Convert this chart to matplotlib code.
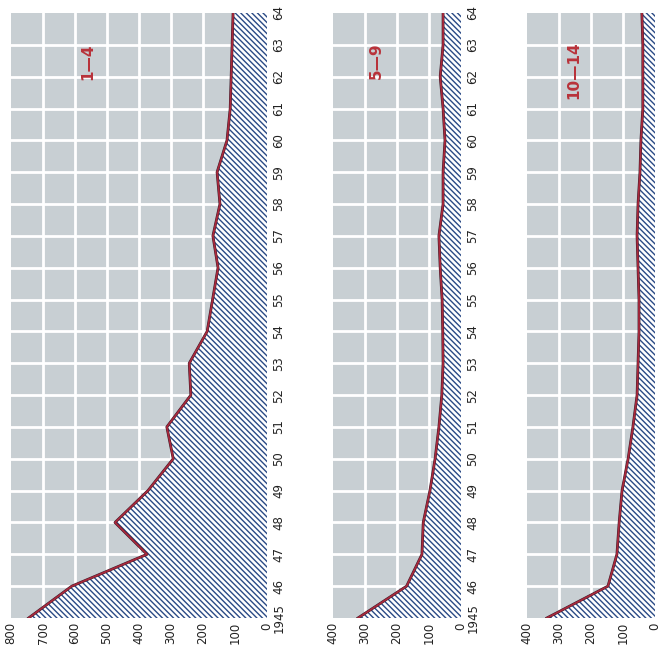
import matplotlib
matplotlib.use("Agg")
import matplotlib.pyplot as plt
import numpy as np

years = list(range(1945, 1965))
year_labels = ["1945"] + [f"{y % 100:02d}" for y in years[1:]]

age_1_4 = [745, 610, 375, 475, 372, 293, 313, 238, 243, 187, 170, 153, 169, 147, 156, 125, 115, 112, 109, 106]
age_5_9 = [322, 170, 122, 118, 97, 81, 69, 60, 56, 57, 59, 65, 69, 56, 56, 50, 56, 65, 56, 56]
age_10_14 = [338, 147, 119, 112, 103, 84, 69, 56, 53, 50, 50, 53, 56, 53, 47, 44, 38, 38, 38, 41]

panel_titles = ["1—4", "5—9", "10—14"]
value_ticks_1 = [800, 700, 600, 500, 400, 300, 200, 100, 0]
value_ticks_2 = [400, 300, 200, 100, 0]

plt.rcParams['hatch.linewidth'] = 1.0
plt.rcParams['hatch.color'] = '#2a4a86'

W, H = 664, 660
fig = plt.figure(figsize=(W / 100, H / 100), dpi=100)
fig.patch.set_facecolor('white')

BG = '#c8cfd3'
LINE = '#a8283c'

def px_axes(left, right, top, bottom):
    return fig.add_axes([left / W, (H - bottom) / H, (right - left) / W, (bottom - top) / H])

specs = [
    (11, 267, age_1_4, 800, value_ticks_1, True, (88, 62)),
    (333, 461, age_5_9, 400, value_ticks_2, True, (376, 61)),
    (527, 655, age_10_14, 400, value_ticks_2, False, (574, 70)),
]

for i, (l, r, vals, vmax, vt, show_years, (tx, ty)) in enumerate(specs):
    ax = px_axes(l, r, 13, 618)
    ax.set_facecolor(BG)
    ax.set_xlim(vmax, 0)
    ax.set_ylim(1945, 1964)
    for v in range(100, vmax, 100):
        ax.axvline(v, color='white', lw=2.0, zorder=1)
    for y in years[1:-1]:
        ax.axhline(y, color='white', lw=2.0, zorder=1)
    ax.fill_betweenx(years, 0, vals, facecolor='white', edgecolor='#2a4a86',
                     hatch='\\\\\\\\\\\\', linewidth=0, zorder=2)
    ax.plot(vals, years, color='#3a1d2a', lw=2.0, zorder=3)
    ax.plot(vals, years, color=LINE, lw=1.3, zorder=4)
    for s in ax.spines.values():
        s.set_visible(False)
    ax.set_xticks(vt)
    ax.set_xticklabels([str(v) for v in vt], rotation=90, fontsize=8.5, color='#222222')
    ax.tick_params(axis='x', length=0, pad=3)
    ax.yaxis.tick_right()
    ax.set_yticks(years)
    if show_years:
        ax.set_yticklabels(year_labels, rotation=90, fontsize=8.5, color='#222222', va='center')
        ax.tick_params(axis='y', length=0, pad=4)
    else:
        ax.set_yticklabels([])
        ax.tick_params(axis='y', length=0)
    fig.text(tx / W, (H - ty) / H, panel_titles[i], rotation=90, color='#b8323a',
             fontsize=11, fontweight='bold', ha='center', va='center')

fig.savefig('out.png', dpi=100, facecolor='white')
